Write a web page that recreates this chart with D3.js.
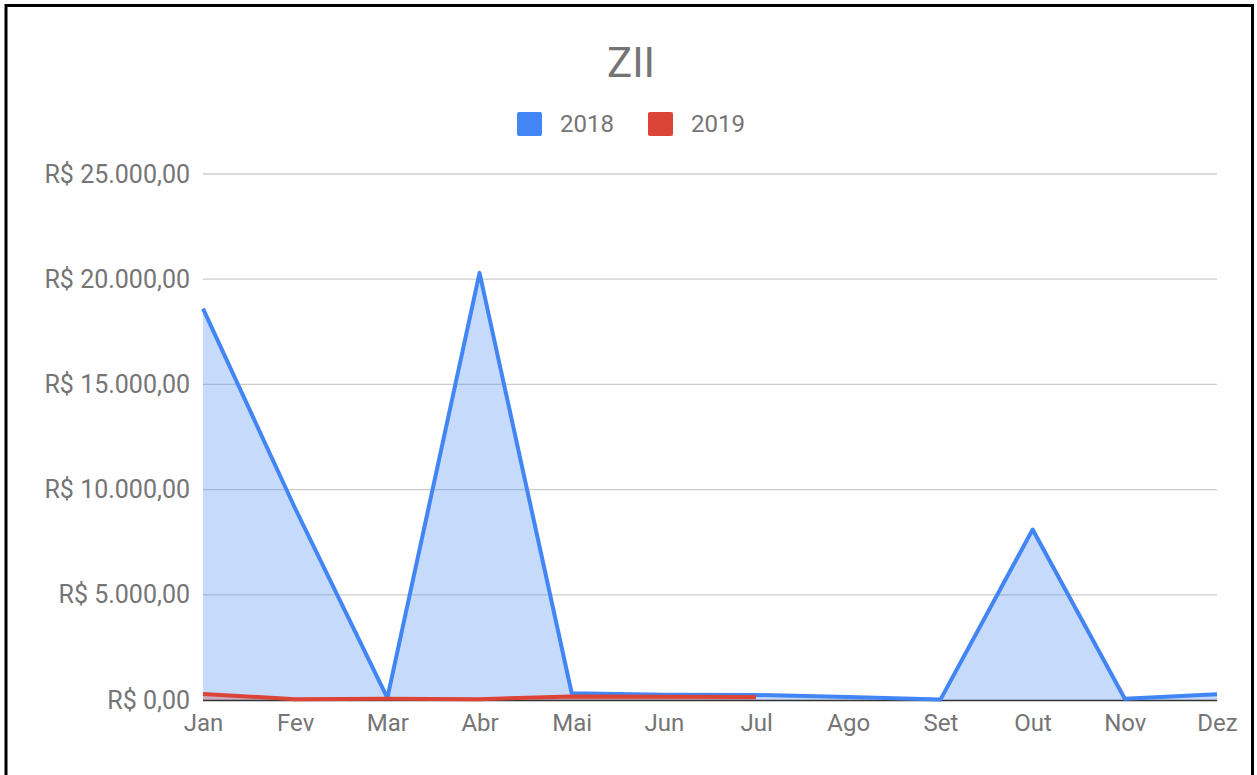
<!DOCTYPE html>
<html><head><meta charset="utf-8">
<script src="https://cdn.jsdelivr.net/npm/d3@7"></script>
<style>body{margin:0;background:#fff;}svg{display:block;font-family:Roboto,sans-serif;}</style>
</head><body><svg id="c" width="1257" height="775"></svg>
<script>
const months = ["Jan","Fev","Mar","Abr","Mai","Jun","Jul","Ago","Set","Out","Nov","Dez"];
const s2018 = [18600, 9100, 100, 20300, 320, 250, 240, 140, 20, 8100, 60, 270];
const s2019 = [290, 40, 60, 40, 170, 160, 140];
const yTicks = [0, 5000, 10000, 15000, 20000, 25000];
const seriesNames = ["2018", "2019"];
const colors = ["#4285F4", "#DB4437"];

const svg = d3.select("#c");
svg.append("rect").attr("x",6).attr("y",5.5).attr("width",1246.5).attr("height",800)
  .attr("fill","none").attr("stroke","#000").attr("stroke-width",3);

const x = d3.scalePoint().domain(months).range([203, 1217]);
const y = d3.scaleLinear().domain([0, 25000]).range([700, 174]);
const fmt = v => "R$ " + d3.format(",.2f")(v).replace(/,/g,"#").replace(/\./g,",").replace(/#/g,".");

// gridlines
svg.append("g").selectAll("line").data(yTicks.filter(d=>d>0)).join("line")
  .attr("x1",203).attr("x2",1217).attr("y1",d=>y(d)).attr("y2",d=>y(d))
  .attr("stroke","#cccccc").attr("stroke-width",1.3);

// y labels
const yAxis = d3.axisLeft(y).tickValues(yTicks).tickFormat(fmt).tickSize(0).tickPadding(13);
const ga = svg.append("g").attr("transform","translate(203,0)").call(yAxis);
ga.select(".domain").remove();
ga.selectAll("text").attr("fill","#757575").style("font-size","25px").style("font-family","Roboto");

// x labels
const xAxis = d3.axisBottom(x).tickSize(0).tickPadding(14);
const gx = svg.append("g").attr("transform","translate(0,700)").call(xAxis);
gx.select(".domain").remove();
gx.selectAll("text").attr("fill","#757575").style("font-size","24px").style("font-family","Roboto");

const data = [s2018, s2019];
const area = d3.area().x((d,i)=>x(months[i])).y0(y(0)).y1(d=>y(d));
const line = d3.line().x((d,i)=>x(months[i])).y(d=>y(d));
data.forEach((s,k)=>{
  svg.append("path").datum(s).attr("d",area).attr("fill",colors[k]).attr("fill-opacity",0.3);
});
// baseline
svg.append("line").attr("x1",203).attr("x2",1217).attr("y1",y(0)+0.5).attr("y2",y(0)+0.5)
  .attr("stroke","#333").attr("stroke-width",1.5);
data.forEach((s,k)=>{
  svg.append("path").datum(s).attr("d",line).attr("fill","none").attr("stroke",colors[k])
    .attr("stroke-width",4).attr("stroke-linejoin","round");
});

// title
svg.append("text").attr("x",631).attr("y",77).attr("text-anchor","middle")
  .attr("fill","#757575").style("font-size","42px").text("ZII");

// legend
const lg = [{x:517, t:"2018"},{x:648, t:"2019"}];
lg.forEach((l,k)=>{
  svg.append("rect").attr("x",l.x).attr("y",112).attr("width",25).attr("height",24).attr("rx",2)
    .attr("fill",colors[k]);
  svg.append("text").attr("x",l.x+43).attr("y",132).attr("fill","#757575")
    .style("font-size","24px").text(seriesNames[k]);
});
</script></body></html>
